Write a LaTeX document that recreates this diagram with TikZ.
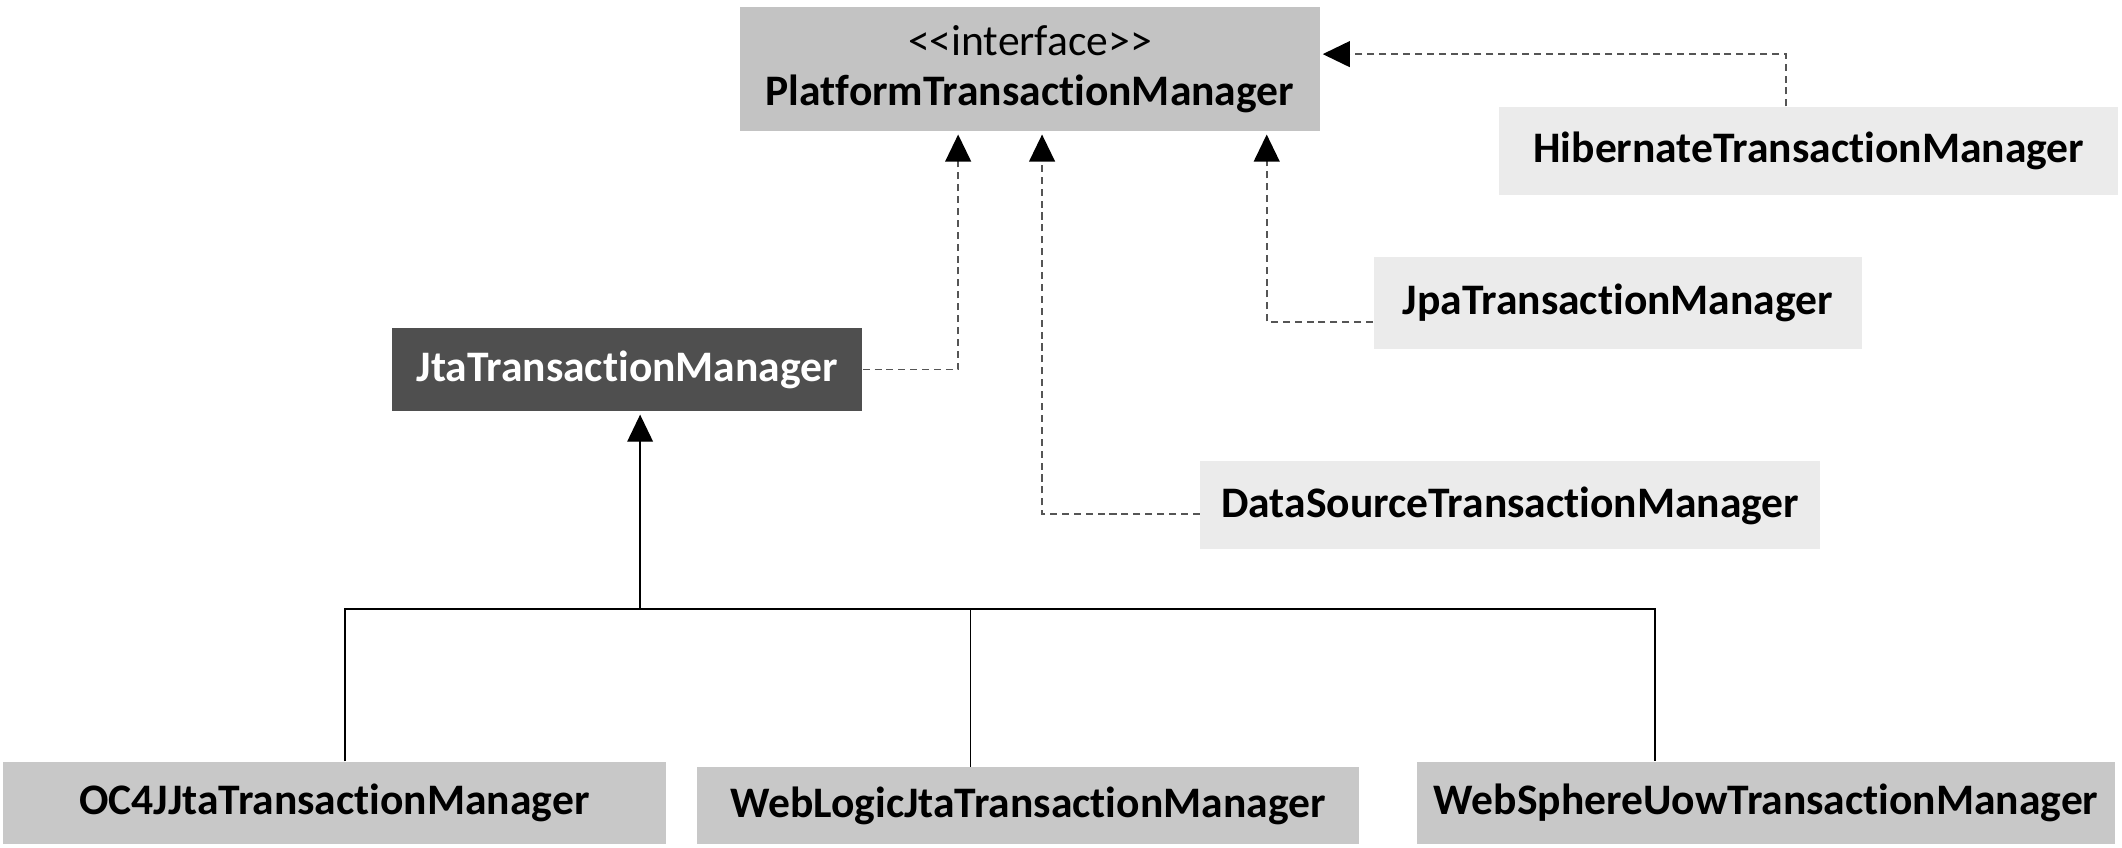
\documentclass[tikz,border=0pt]{standalone}
\usepackage{fontspec}
\setmainfont{Carlito}[Ligatures=NoCommon]
\usepackage{tikz}
\usetikzlibrary{calc,arrows.meta}
\definecolor{ifacegray}{HTML}{C3C3C3}
\definecolor{implgray}{HTML}{EBEBEB}
\definecolor{jtagray}{HTML}{4F4F4F}
\definecolor{subgray}{HTML}{C8C8C8}
\definecolor{dashgray}{HTML}{555555}

\begin{document}
\begin{tikzpicture}[x=0.5pt,y=-0.5pt,
    cls/.style={inner sep=0pt,font=\fontsize{16.1}{18.5}\selectfont\bfseries,align=center},
    dep/.style={draw=dashgray,line width=0.7pt,dash pattern=on 2.6pt off 1.8pt,-{Triangle[length=10pt,width=9.5pt,color=black]},shorten >=1pt},
    inh/.style={draw=black,line width=0.5pt,-{Triangle[length=10pt,width=9.5pt]},shorten >=1pt},
    bus/.style={draw=black,line width=0.5pt}]
    \useasboundingbox (0,0) rectangle (1568,626);

    % the interface
    \node (ptm) at (761,51) [cls,fill=ifacegray,minimum width=214pt,minimum height=46pt]{
      {\mdseries <{}<interface>{}>}\\
      PlatformTransactionManager
    };

    % direct implementations
    \node (hib) at (1336.5,111.5) [cls,fill=implgray,minimum width=228.5pt,minimum height=32.5pt]{HibernateTransactionManager};
    \node (jpa) at (1195.5,224) [cls,fill=implgray,minimum width=180.5pt,minimum height=34pt]{JpaTransactionManager};
    \node (ds) at (1116,373.5) [cls,fill=implgray,minimum width=229pt,minimum height=32.5pt]{DataSourceTransactionManager};
    \node (jta) at (463.5,273) [cls,fill=jtagray,text=white,minimum width=173.5pt,minimum height=31pt]{JtaTransactionManager};

    % subclasses of jta
    \node (oc4j) at (247,593.5) [cls,fill=subgray,minimum width=245pt,minimum height=30.5pt]{OC4JJtaTransactionManager};
    \node (wl) at (759.5,595.5) [cls,fill=subgray,minimum width=244.5pt,minimum height=28.5pt]{WebLogicJtaTransactionManager};
    \node (wsp) at (1305,593.5) [cls,fill=subgray,minimum width=258pt,minimum height=30.5pt]{WebSphereUowTransactionManager};

    \draw[dep] ($(hib.north)+(-16.5,0)$) |- ($(ptm.east)+(0,-11)$);
    \draw[dep] ($(jpa.west)+(0,14)$) -| ($(ptm.south)+(175,0)$);
    \draw[dep] ($(ds.west)+(0,6.5)$) -| ($(ptm.south)+(9,0)$);
    \draw[dep] (jta.east) -| ($(ptm.south)+(-53,0)$);

    \coordinate (fork) at (473,450);
    \coordinate (oc4jup) at ($(oc4j.north)+(8,0)$);
    \coordinate (wlup) at ($(wl.north)+(-42.5,0)$);
    \coordinate (wspup) at ($(wsp.north)+(-82,0)$);
    \draw[bus] (oc4jup) |- (fork) -| (wspup);
    \draw[bus] (wlup) -- (wlup |- fork);
    \draw[inh] (fork) -- (jta.south -| fork);
  \end{tikzpicture}
\end{document}
